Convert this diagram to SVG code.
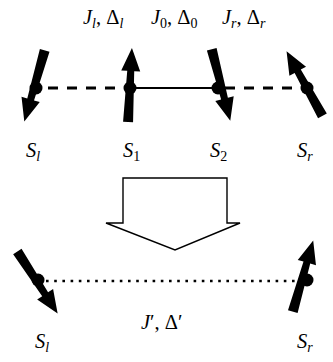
<svg xmlns="http://www.w3.org/2000/svg" width="333" height="362" viewBox="0 0 333 362">
<style>
text{font-family:"Liberation Serif","Times New Roman",serif;font-size:20.5px;fill:#000}
.i{font-style:italic}
.s{font-size:14px}
.spin{fill:#000}
</style>
<defs>
<g id="spinshape">
<path d="M-5,37 L5,37 L3.5,-14 L9.5,-14 L0,-37 L-9.5,-14 L-3.5,-14 Z"/>
</g>
</defs>
<rect width="333" height="362" fill="#fff"/>
<g id="connectors" fill="none" stroke="#000">
<line x1="48" y1="88" x2="124" y2="88" stroke-width="3" stroke-dasharray="10,9"/>
<line x1="134" y1="88" x2="214" y2="88" stroke-width="2.2"/>
<line x1="225" y1="88" x2="300" y2="88" stroke-width="3" stroke-dasharray="10,9"/>
<line x1="46" y1="281" x2="300" y2="281" stroke-width="2.6" stroke-dasharray="2.6,5.6"/>
<path d="M123,178 L227,178 L227,223 L240,223 L175,250 L106,223 L123,223 Z" stroke-width="1.4" fill="#fff" stroke-linejoin="miter"/>
</g>
<g id="spin-Sl-top" class="spin">
<use href="#spinshape" transform="translate(34.5,86) rotate(196)"/>
<circle cx="36" cy="88" r="6.5"/>
</g>
<g id="spin-S1" class="spin">
<use href="#spinshape" transform="translate(130,85) rotate(3)"/>
<circle cx="130" cy="88" r="6.5"/>
</g>
<g id="spin-S2" class="spin">
<use href="#spinshape" transform="translate(221,85) rotate(165.5)"/>
<circle cx="218" cy="88" r="6.5"/>
</g>
<g id="spin-Sr-top" class="spin">
<use href="#spinshape" transform="translate(304.5,83.5) rotate(-29)"/>
<circle cx="307" cy="88" r="6.5"/>
</g>
<g id="spin-Sl-bottom" class="spin">
<use href="#spinshape" transform="translate(37.5,282.5) rotate(147)"/>
<circle cx="38" cy="280" r="6.5"/>
</g>
<g id="spin-Sr-bottom" class="spin">
<use href="#spinshape" transform="translate(303,276) rotate(16)"/>
<circle cx="307" cy="280" r="6.5"/>
</g>
<g id="labels">
<text x="83" y="24"><tspan class="i">J</tspan><tspan class="i s" dy="4">l</tspan><tspan dy="-4">, Δ</tspan><tspan class="i s" dy="4">l</tspan></text>
<text x="151" y="24"><tspan class="i">J</tspan><tspan class="s" dy="4">0</tspan><tspan dy="-4">, Δ</tspan><tspan class="s" dy="4">0</tspan></text>
<text x="222" y="24"><tspan class="i">J</tspan><tspan class="i s" dy="4">r</tspan><tspan dy="-4">, Δ</tspan><tspan class="i s" dy="4">r</tspan></text>
<text x="26" y="157"><tspan class="i">S</tspan><tspan class="i s" dy="4">l</tspan></text>
<text x="123" y="157"><tspan class="i">S</tspan><tspan class="s" dy="4">1</tspan></text>
<text x="210" y="157"><tspan class="i">S</tspan><tspan class="s" dy="4">2</tspan></text>
<text x="297" y="157"><tspan class="i">S</tspan><tspan class="i s" dy="4">r</tspan></text>
<text x="141" y="329"><tspan class="i">J</tspan><tspan>′, Δ′</tspan></text>
<text x="35" y="348"><tspan class="i">S</tspan><tspan class="i s" dy="4">l</tspan></text>
<text x="297" y="348"><tspan class="i">S</tspan><tspan class="i s" dy="4">r</tspan></text>
</g>
</svg>
